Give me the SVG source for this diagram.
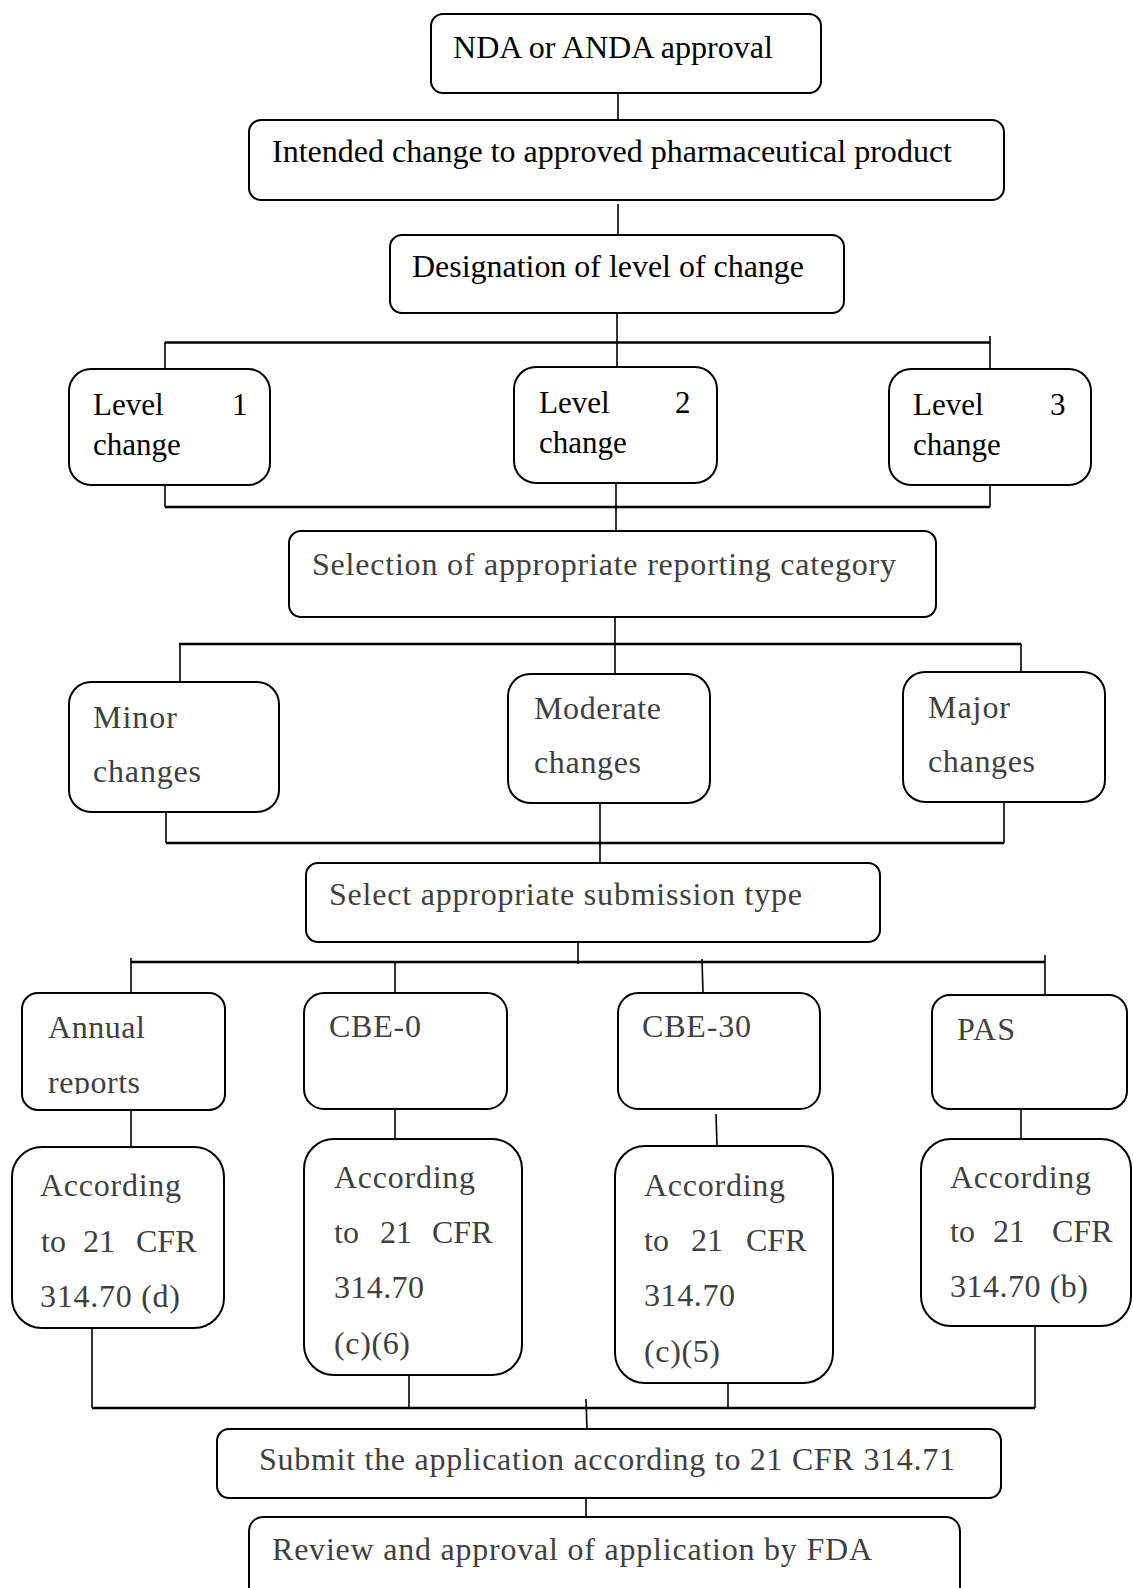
<svg xmlns="http://www.w3.org/2000/svg" width="1133" height="1588" viewBox="0 0 1133 1588">
  <style>
    .box { fill: #fff; stroke: #000; stroke-width: 2; }
    .ln { stroke: #000; stroke-width: 1.6; fill: none; }
    .bar { stroke: #000; stroke-width: 2.6; fill: none; }
    text { font-family: "Liberation Serif", "Times New Roman", serif; font-size: 31px; }
    .k { fill: #000; }
    .g { fill: #3f3f3f; font-size: 32px; }
  </style>
  <defs>
    <clipPath id="annualClip">
      <rect x="22" y="993" width="203" height="101"/>
    </clipPath>
  </defs>
  <rect width="1133" height="1588" fill="#fff"/>

  <!-- connectors -->
  <g id="connectors">
    <line class="ln" x1="618" y1="93" x2="618" y2="120"/>
    <line class="ln" x1="618" y1="204" x2="618" y2="235"/>
    <line class="ln" x1="617" y1="313" x2="617" y2="367"/>
    <line class="bar" x1="165" y1="342.5" x2="990" y2="342.5"/>
    <line class="ln" x1="165" y1="342" x2="165" y2="369"/>
    <line class="ln" x1="990" y1="336" x2="990" y2="369"/>

    <line class="ln" x1="165" y1="485" x2="165" y2="507"/>
    <line class="ln" x1="990" y1="485" x2="990" y2="507"/>
    <line class="bar" x1="165" y1="507" x2="990" y2="507"/>
    <line class="ln" x1="616" y1="483" x2="616" y2="531"/>

    <line class="ln" x1="615" y1="617" x2="615" y2="644"/>
    <line class="bar" x1="179" y1="644" x2="1021" y2="644"/>
    <line class="ln" x1="180" y1="644" x2="180" y2="682"/>
    <line class="ln" x1="615" y1="644" x2="615" y2="674"/>
    <line class="ln" x1="1021" y1="644" x2="1021" y2="672"/>

    <line class="ln" x1="166" y1="812" x2="166" y2="843"/>
    <line class="ln" x1="1004" y1="802" x2="1004" y2="843"/>
    <line class="bar" x1="166" y1="843" x2="1004" y2="843"/>
    <line class="ln" x1="600" y1="803" x2="600" y2="863"/>

    <line class="ln" x1="578" y1="938" x2="578" y2="964"/>
    <line class="bar" x1="131" y1="962" x2="1045" y2="962"/>
    <line class="ln" x1="131" y1="958" x2="131" y2="993"/>
    <line class="ln" x1="395" y1="963" x2="395" y2="993"/>
    <line class="ln" x1="702" y1="959" x2="703" y2="993"/>
    <line class="ln" x1="1045" y1="955" x2="1045" y2="995"/>

    <line class="ln" x1="131" y1="1110" x2="131" y2="1147"/>
    <line class="ln" x1="395" y1="1109" x2="395" y2="1139"/>
    <line class="ln" x1="716" y1="1114" x2="717" y2="1146"/>
    <line class="ln" x1="1021" y1="1109" x2="1021" y2="1139"/>

    <line class="ln" x1="92" y1="1328" x2="92" y2="1408"/>
    <line class="ln" x1="409" y1="1375" x2="409" y2="1408"/>
    <line class="ln" x1="728" y1="1383" x2="728" y2="1408"/>
    <line class="ln" x1="1035" y1="1326" x2="1035" y2="1408"/>
    <line class="bar" x1="92" y1="1408" x2="1035" y2="1408"/>
    <line class="ln" x1="586" y1="1399" x2="587" y2="1429"/>
    <line class="ln" x1="586" y1="1498" x2="586" y2="1517"/>
  </g>

  <g id="nda">
    <rect class="box" x="431" y="14" width="390" height="79" rx="12"/>
    <text class="k" x="453" y="57.5" textLength="320" lengthAdjust="spacingAndGlyphs">NDA or ANDA approval</text>
  </g>
  <g id="intended">
    <rect class="box" x="249" y="120" width="755" height="80" rx="12"/>
    <text class="k" x="272" y="162" textLength="680" lengthAdjust="spacingAndGlyphs">Intended change to approved pharmaceutical product</text>
  </g>
  <g id="designation">
    <rect class="box" x="390" y="235" width="454" height="78" rx="12"/>
    <text class="k" x="412" y="277" textLength="392" lengthAdjust="spacingAndGlyphs">Designation of level of change</text>
  </g>

  <g id="level1">
    <rect class="box" x="69" y="369" width="201" height="116" rx="22"/>
    <text class="k" x="93" y="415">Level</text>
    <text class="k" x="232" y="415">1</text>
    <text class="k" x="93" y="455">change</text>
  </g>
  <g id="level2">
    <rect class="box" x="514" y="367" width="203" height="116" rx="22"/>
    <text class="k" x="539" y="413">Level</text>
    <text class="k" x="675" y="413">2</text>
    <text class="k" x="539" y="453">change</text>
  </g>
  <g id="level3">
    <rect class="box" x="889" y="369" width="202" height="116" rx="22"/>
    <text class="k" x="913" y="415">Level</text>
    <text class="k" x="1050" y="415">3</text>
    <text class="k" x="913" y="455">change</text>
  </g>

  <g id="selection">
    <rect class="box" x="289" y="531" width="647" height="86" rx="12"/>
    <text class="g" x="312" y="574.5" textLength="584" lengthAdjust="spacing">Selection of appropriate reporting category</text>
  </g>

  <g id="minor">
    <rect class="box" x="69" y="682" width="210" height="130" rx="22"/>
    <text class="g" x="93" y="728" textLength="84" lengthAdjust="spacing">Minor</text>
    <text class="g" x="93" y="782" textLength="108" lengthAdjust="spacing">changes</text>
  </g>
  <g id="moderate">
    <rect class="box" x="508" y="674" width="202" height="129" rx="22"/>
    <text class="g" x="534" y="719" textLength="127" lengthAdjust="spacing">Moderate</text>
    <text class="g" x="534" y="773" textLength="107" lengthAdjust="spacing">changes</text>
  </g>
  <g id="major">
    <rect class="box" x="903" y="672" width="202" height="130" rx="22"/>
    <text class="g" x="928" y="718" textLength="82" lengthAdjust="spacing">Major</text>
    <text class="g" x="928" y="772" textLength="107" lengthAdjust="spacing">changes</text>
  </g>

  <g id="submission-type">
    <rect class="box" x="306" y="863" width="574" height="79" rx="12"/>
    <text class="g" x="329" y="905" textLength="473" lengthAdjust="spacing">Select appropriate submission type</text>
  </g>

  <g id="annual">
    <rect class="box" x="22" y="993" width="203" height="117" rx="16"/>
    <text class="g" x="48" y="1038" textLength="97" lengthAdjust="spacing">Annual</text>
    <text class="g" x="48" y="1093" textLength="92" lengthAdjust="spacing" clip-path="url(#annualClip)">reports</text>
  </g>
  <g id="cbe0">
    <rect class="box" x="304" y="993" width="203" height="116" rx="20"/>
    <text class="g" x="329" y="1037" textLength="92" lengthAdjust="spacing">CBE-0</text>
  </g>
  <g id="cbe30">
    <rect class="box" x="618" y="993" width="202" height="116" rx="20"/>
    <text class="g" x="642" y="1037" textLength="109" lengthAdjust="spacing">CBE-30</text>
  </g>
  <g id="pas">
    <rect class="box" x="932" y="995" width="195" height="114" rx="18"/>
    <text class="g" x="957" y="1040" textLength="58" lengthAdjust="spacing">PAS</text>
  </g>

  <g id="cfr-d">
    <rect class="box" x="12" y="1147" width="212" height="181" rx="30"/>
    <text class="g" x="40" y="1196" textLength="141" lengthAdjust="spacing">According</text>
    <text class="g" y="1251.5"><tspan x="41">to</tspan><tspan x="83">21</tspan><tspan x="136">CFR</tspan></text>
    <text class="g" x="40" y="1306.5" textLength="140" lengthAdjust="spacing">314.70 (d)</text>
  </g>
  <g id="cfr-c6">
    <rect class="box" x="304" y="1139" width="218" height="236" rx="30"/>
    <text class="g" x="334" y="1188" textLength="141" lengthAdjust="spacing">According</text>
    <text class="g" y="1243"><tspan x="334">to</tspan><tspan x="380">21</tspan><tspan x="432">CFR</tspan></text>
    <text class="g" x="334" y="1298" textLength="90" lengthAdjust="spacing">314.70</text>
    <text class="g" x="334" y="1354" textLength="76" lengthAdjust="spacing">(c)(6)</text>
  </g>
  <g id="cfr-c5">
    <rect class="box" x="615" y="1146" width="218" height="237" rx="30"/>
    <text class="g" x="644" y="1196" textLength="141" lengthAdjust="spacing">According</text>
    <text class="g" y="1251"><tspan x="644">to</tspan><tspan x="691">21</tspan><tspan x="746">CFR</tspan></text>
    <text class="g" x="644" y="1306" textLength="91" lengthAdjust="spacing">314.70</text>
    <text class="g" x="644" y="1362" textLength="76" lengthAdjust="spacing">(c)(5)</text>
  </g>
  <g id="cfr-b">
    <rect class="box" x="921" y="1139" width="210" height="187" rx="30"/>
    <text class="g" x="950" y="1188" textLength="141" lengthAdjust="spacing">According</text>
    <text class="g" y="1242"><tspan x="950">to</tspan><tspan x="993">21</tspan><tspan x="1052">CFR</tspan></text>
    <text class="g" x="950" y="1297" textLength="138" lengthAdjust="spacing">314.70 (b)</text>
  </g>

  <g id="submit">
    <rect class="box" x="217" y="1429" width="784" height="69" rx="12"/>
    <text class="g" x="259" y="1470" textLength="696" lengthAdjust="spacing">Submit the application according to 21 CFR 314.71</text>
  </g>
  <g id="review">
    <rect class="box" x="249" y="1517" width="711" height="100" rx="14"/>
    <text class="g" x="272" y="1560" textLength="600" lengthAdjust="spacing">Review and approval of application by FDA</text>
  </g>
</svg>
